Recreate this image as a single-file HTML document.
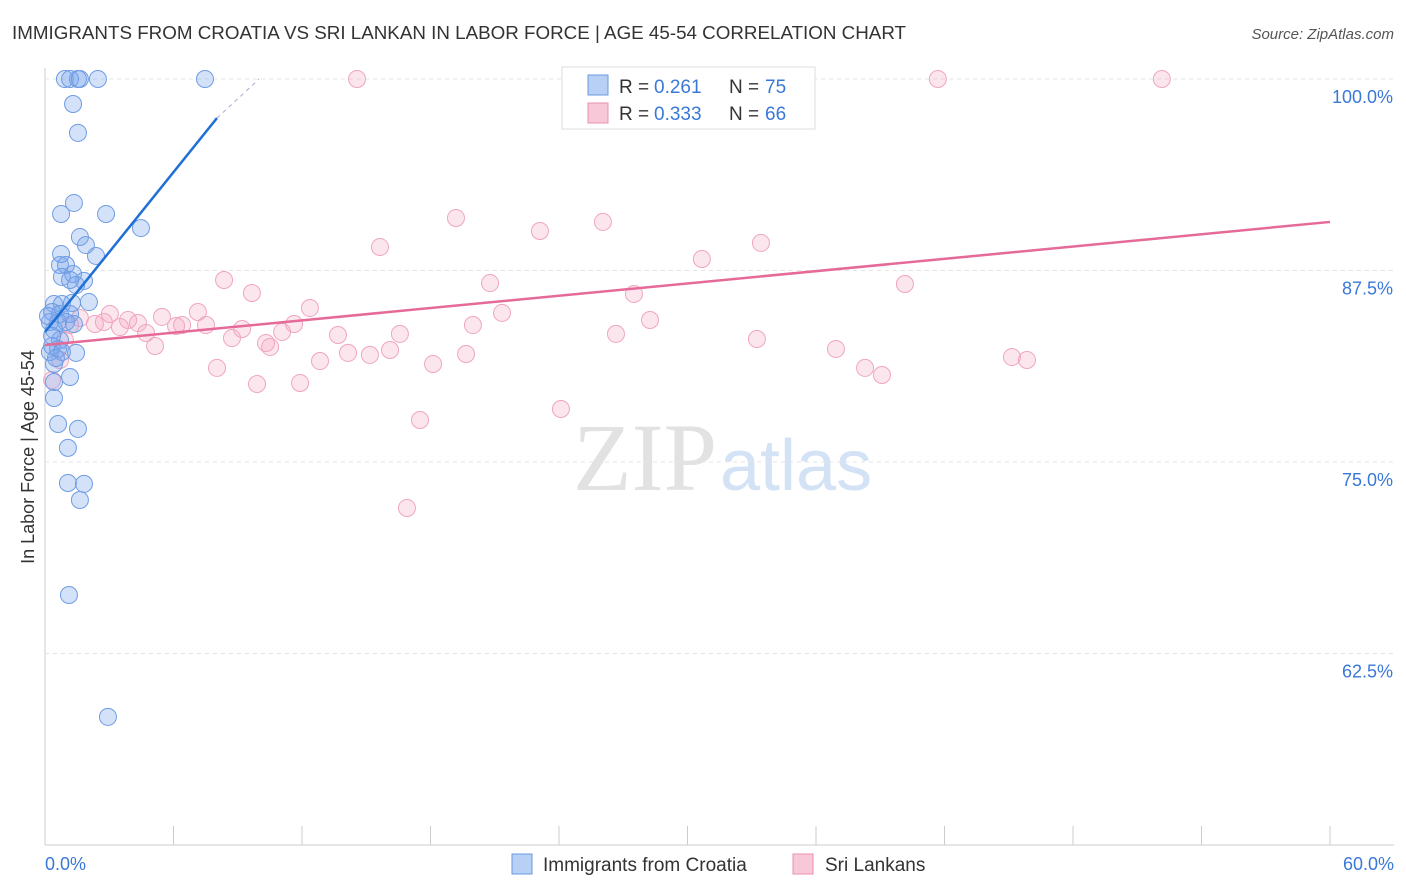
<!DOCTYPE html>
<html><head><meta charset="utf-8"><style>
body{margin:0;background:#fff;font-family:"Liberation Sans",sans-serif;}
</style></head><body>
<svg id="c" width="1406" height="892" xmlns="http://www.w3.org/2000/svg" style="display:block">
<text x="12" y="39" font-size="18.8" fill="#333">IMMIGRANTS FROM CROATIA VS SRI LANKAN IN LABOR FORCE | AGE 45-54 CORRELATION CHART</text>
<text x="1394" y="39" font-size="15" fill="#555" font-style="italic" text-anchor="end">Source: ZipAtlas.com</text>
<text x="717" y="490" font-size="96" fill="#e2e2e2" font-family="Liberation Serif" text-anchor="end">ZIP</text>
<text x="720" y="490" font-size="72" fill="#d3e2f5">atlas</text>
<g id="grid"></g><g id="pts"></g><g id="trend"></g>
<text transform="translate(34,457) rotate(-90)" font-size="18" fill="#333" text-anchor="middle">In Labor Force | Age 45-54</text>
<g>
<rect x="562" y="67" width="253" height="62" fill="#fff" stroke="#ddd"/>
<rect x="588" y="75" width="20" height="20" fill="#b8d0f5" stroke="#6a9ae0"/>
<rect x="588" y="103" width="20" height="20" fill="#f8c8d8" stroke="#e890b0"/>
<text x="619" y="93" font-size="19" fill="#333">R =</text>
<text x="654" y="93" font-size="19" fill="#3a78d8">0.261</text>
<text x="729" y="93" font-size="19" fill="#333">N =</text>
<text x="765" y="93" font-size="19" fill="#3a78d8">75</text>
<text x="619" y="120" font-size="19" fill="#333">R =</text>
<text x="654" y="120" font-size="19" fill="#3a78d8">0.333</text>
<text x="729" y="120" font-size="19" fill="#333">N =</text>
<text x="765" y="120" font-size="19" fill="#3a78d8">66</text>
</g>
<g>
<rect x="512" y="854" width="20" height="20" fill="#b8d0f5" stroke="#6a9ae0"/>
<text x="543" y="871" font-size="19" fill="#333">Immigrants from Croatia</text>
<rect x="793" y="854" width="20" height="20" fill="#f8c8d8" stroke="#e890b0"/>
<text x="825" y="871" font-size="19" fill="#333">Sri Lankans</text>
</g>
</svg>
<script>
const yTicks=[100,87.5,75,62.5];
const yTickLabels=["100.0%","87.5%","75.0%","62.5%"];
const xTickLabels=["0.0%","60.0%"];
const blueX=[0.93,1.17,1.54,1.63,2.47,7.47,1.31,1.54,1.35,0.75,2.85,4.48,1.63,1.91,0.75,2.38,0.70,0.98,1.31,0.79,1.82,1.45,1.17,2.05,0.42,0.79,1.26,0.33,0.70,1.17,0.23,0.61,0.98,1.35,0.42,0.70,0.33,0.61,1.45,0.23,0.79,0.42,1.17,0.42,0.42,0.61,1.54,1.07,1.07,1.82,1.63,1.12,2.94,0.14,0.33,0.51];
const blueY=[100,100,100,100,100,100,98.37,96.48,91.91,91.19,91.19,90.27,89.69,89.16,88.58,88.45,87.86,87.86,87.27,87.08,86.82,86.55,86.88,85.44,85.31,85.31,85.38,84.79,84.66,84.66,84.14,84.14,84.14,84.01,83.62,82.96,82.57,82.38,82.12,82.18,82.18,81.40,80.55,80.22,79.18,77.48,77.16,75.92,73.63,73.57,72.52,66.32,58.36,84.53,83.23,81.79];
const pinkX=[14.57,24.98,41.69,52.15,19.19,26.05,23.11,15.64,33.43,30.67,8.36,20.78,40.15,9.66,27.50,12.37,3.03,7.14,21.34,5.46,3.88,28.25,19.98,2.33,2.75,4.34,6.40,7.52,11.63,3.50,6.12,9.20,4.72,8.73,13.68,16.57,26.66,11.07,33.24,10.32,10.51,5.14,16.11,14.15,15.17,36.93,19.66,45.15,45.85,12.84,18.12,38.29,8.03,39.08,9.90,11.91,24.09,17.51,16.90,0.33,0.70,0.93,1.17,1.63];
const pinkY=[100,100,100,100,90.93,90.67,90.08,89.03,89.30,88.25,86.88,86.68,86.62,86.03,85.97,85.05,84.66,84.79,84.73,84.47,84.27,84.27,83.94,84.01,84.14,84.07,83.94,83.94,84.01,83.81,83.88,83.68,83.42,83.09,83.29,83.36,83.36,83.49,83.03,82.77,82.51,82.57,82.31,82.12,81.99,82.38,82.05,81.85,81.66,81.59,81.40,81.14,81.14,80.68,80.09,80.16,78.46,77.74,72.00,80.35,81.66,82.96,83.94,84.40];
const blueTrend=[0,83.49,8.03,97.45,10.0,100];
const pinkTrend=[0,82.64,60,90.67];
const X=v=>45+v/60*1285, Y=v=>79+(100-v)/12.5*191.5;
const NS="http://www.w3.org/2000/svg";
function mk(t,a,p){const e=document.createElementNS(NS,t);for(const k in a)e.setAttribute(k,a[k]);document.getElementById(p).appendChild(e);return e;}
let e=mk('line',{x1:45,y1:68,x2:45,y2:845,stroke:'#ccc'},'grid');


e=mk('line',{x1:45,y1:845,x2:1394,y2:845,stroke:'#ccc'},'grid');


yTicks.forEach((t,i)=>{
 let l=mk('line',{x1:45,y1:Y(t),x2:1394,y2:Y(t),stroke:'#e4e4e4','stroke-dasharray':'4,4'},'grid');
 
 
 let tx=mk('text',{x:1393,y:Y(t)+24,'font-size':18,fill:'#3a78d8','text-anchor':'end'},'grid');tx.textContent=yTickLabels[i];
 
 
});
for(let i=0;i<=10;i++){let l=mk('line',{x1:X(i*6),y1:826,x2:X(i*6),y2:845,stroke:'#ccc'},'grid');
 
 }
[[0,'start',45],[1,'end',1394]].forEach(([i,a,x])=>{let tx=mk('text',{x:x,y:870,'font-size':18,fill:'#3a78d8','text-anchor':a},'grid');tx.textContent=xTickLabels[i];
 
 });
pinkX.forEach((v,i)=>{let c=mk('circle',{cx:X(v),cy:Y(pinkY[i]),r:8.5,fill:'rgba(245,165,195,0.28)',stroke:'#f0a5c0','stroke-width':1},'pts');
 
 });
blueX.forEach((v,i)=>{let c=mk('circle',{cx:X(v),cy:Y(blueY[i]),r:8.5,fill:'rgba(120,165,235,0.32)',stroke:'#6f9ce3','stroke-width':1},'pts');
 
 });
e=mk('line',{x1:X(blueTrend[0]),y1:Y(blueTrend[1]),x2:X(blueTrend[2]),y2:Y(blueTrend[3]),stroke:'#1f6fd6','stroke-width':2.5},'trend');


e=mk('line',{x1:X(blueTrend[2]),y1:Y(blueTrend[3]),x2:X(blueTrend[4]),y2:Y(blueTrend[5]),stroke:'#aac','stroke-width':1,'stroke-dasharray':'4,4'},'trend');


e=mk('line',{x1:X(pinkTrend[0]),y1:Y(pinkTrend[1]),x2:X(pinkTrend[2]),y2:Y(pinkTrend[3]),stroke:'#e56a98','stroke-width':2.5},'trend');


</script>
</body></html>
